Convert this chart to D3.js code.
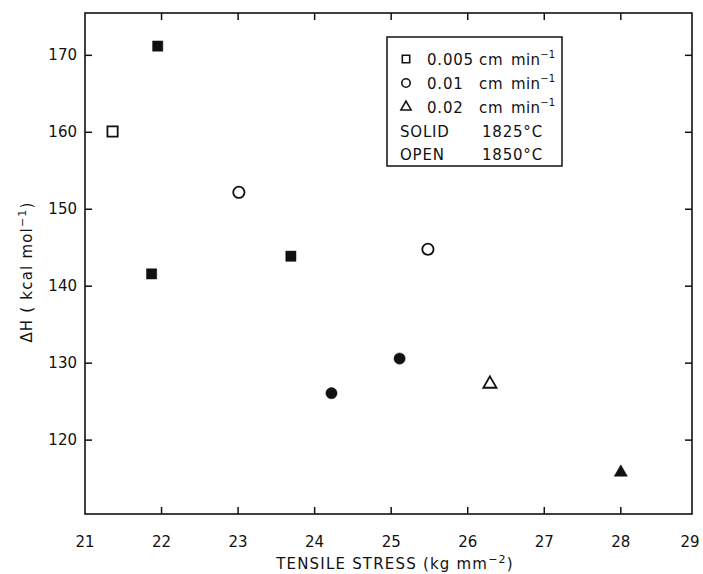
<!DOCTYPE html>
<html>
<head>
<meta charset="utf-8">
<script src="https://cdn.jsdelivr.net/npm/d3@7"></script>
<style>
  body { margin: 0; background: #fff; }
  text { font-family: "DejaVu Sans", sans-serif; fill: #111; }
  .tick-label { font-size: 15px; }
  .axis-title { font-size: 15px; letter-spacing: 1.2px; }
  .legend-text { font-size: 15px; letter-spacing: 0.8px; }
</style>
</head>
<body>
<div id="chart"></div>
<script>
// data
var stress = [21.36, 21.95, 21.87, 23.01, 23.69, 25.48, 24.22, 25.11, 26.29, 28.0];
var deltaH = [160.1, 171.2, 141.6, 152.2, 143.9, 144.8, 126.1, 130.6, 127.3, 115.8];
var rate   = ["0.005", "0.005", "0.005", "0.01", "0.005", "0.01", "0.01", "0.01", "0.02", "0.02"];
var temp   = ["1850", "1825", "1825", "1850", "1825", "1850", "1825", "1825", "1850", "1825"];

var xTicks = [21, 22, 23, 24, 25, 26, 27, 28, 29];
var yTicks = [120, 130, 140, 150, 160, 170];

var rates = ["0.005", "0.01", "0.02"];
var legendRates = ["0.005", "0.01", "0.02"];
var legendTemps = [["SOLID", "1825°C"], ["OPEN", "1850°C"]];

function drawChart() {

    var width = 703, height = 574;
    var m = {left: 85, right: 692, top: 13, bottom: 514};

    var svg = d3.select("#chart").append("svg")
        .attr("width", width)
        .attr("height", height);

    var x = d3.scaleLinear().domain([21, 28.93]).range([m.left, m.right]);
    var y = d3.scaleLinear().domain([110.4, 175.5]).range([m.bottom, m.top]);

    var shapes = d3.scaleOrdinal()
        .domain(rates)
        .range([d3.symbolSquare, d3.symbolCircle, d3.symbolTriangle]);
    var sizes = d3.scaleOrdinal()
        .domain(rates)
        .range([105, 100, 75]);

    // frame
    svg.append("rect")
        .attr("x", m.left)
        .attr("y", m.top)
        .attr("width", m.right - m.left)
        .attr("height", m.bottom - m.top)
        .attr("fill", "none")
        .attr("stroke", "#111")
        .attr("stroke-width", 1.6);

    var tickLen = 7;

    // bottom + top ticks (inward)
    svg.append("g").selectAll("line")
        .data(xTicks.slice(1, -1))
        .enter().append("line")
        .attr("x1", d => x(d)).attr("x2", d => x(d))
        .attr("y1", m.bottom).attr("y2", m.bottom - tickLen)
        .attr("stroke", "#111").attr("stroke-width", 1.5);

    svg.append("g").selectAll("line")
        .data(xTicks.slice(1, -1))
        .enter().append("line")
        .attr("x1", d => x(d)).attr("x2", d => x(d))
        .attr("y1", m.top).attr("y2", m.top + tickLen)
        .attr("stroke", "#111").attr("stroke-width", 1.5);

    // left + right ticks
    svg.append("g").selectAll("line")
        .data(yTicks)
        .enter().append("line")
        .attr("x1", m.left).attr("x2", m.left + tickLen)
        .attr("y1", d => y(d)).attr("y2", d => y(d))
        .attr("stroke", "#111").attr("stroke-width", 1.5);

    svg.append("g").selectAll("line")
        .data(yTicks)
        .enter().append("line")
        .attr("x1", m.right).attr("x2", m.right - tickLen)
        .attr("y1", d => y(d)).attr("y2", d => y(d))
        .attr("stroke", "#111").attr("stroke-width", 1.5);

    // tick labels
    svg.append("g").selectAll("text")
        .data(xTicks)
        .enter().append("text")
        .attr("class", "tick-label")
        .attr("x", d => Math.min(x(d), m.right - 2))
        .attr("y", m.bottom + 33)
        .attr("text-anchor", "middle")
        .text(d => d);

    svg.append("g").selectAll("text")
        .data(yTicks)
        .enter().append("text")
        .attr("class", "tick-label")
        .attr("x", m.left - 8)
        .attr("y", d => y(d) + 5)
        .attr("text-anchor", "end")
        .text(d => d);

    // axis titles
    var xt = svg.append("text")
        .attr("class", "axis-title")
        .attr("x", 395)
        .attr("y", 569)
        .attr("text-anchor", "middle");
    xt.append("tspan").text("TENSILE STRESS (kg mm");
    xt.append("tspan").attr("dy", -6).attr("font-size", 11).text("−2");
    xt.append("tspan").attr("dy", 6).text(")");

    var yt = svg.append("text")
        .attr("class", "axis-title")
        .attr("transform", "translate(32,272) rotate(-90)")
        .attr("text-anchor", "middle");
    yt.append("tspan").text("ΔH ( kcal mol");
    yt.append("tspan").attr("dy", -6).attr("font-size", 11).text("−1");
    yt.append("tspan").attr("dy", 6).text(")");

    // points
    var pts = stress.map((s, i) => ({ s: s, h: deltaH[i], rate: rate[i], temp: temp[i] }));

    svg.append("g").selectAll("path")
        .data(pts)
        .enter().append("path")
        .attr("transform", d => "translate(" + x(d.s) + "," + y(d.h) + ")")
        .attr("d", d => d3.symbol().type(shapes(d.rate)).size(sizes(d.rate))())
        .attr("fill", d => d.temp == "1825" ? "#111" : "#fff")
        .attr("stroke", "#111")
        .attr("stroke-width", d => d.temp == "1825" ? 0.5 : 1.8);

    // legend
    var lg = svg.append("g");
    lg.append("rect")
        .attr("x", 387).attr("y", 37)
        .attr("width", 175).attr("height", 129)
        .attr("fill", "#fff")
        .attr("stroke", "#111")
        .attr("stroke-width", 1.5);

    var rowY = [60, 84, 108, 132, 155];

    rates.forEach(function(r, i) {
        lg.append("path")
            .attr("transform", "translate(406," + (rowY[i] - 1) + ")")
            .attr("d", d3.symbol().type(shapes(r)).size(r == "0.02" ? 45 : 55)())
            .attr("fill", "none")
            .attr("stroke", "#111")
            .attr("stroke-width", 1.6);
        lg.append("text")
            .attr("class", "legend-text")
            .attr("x", 427)
            .attr("y", rowY[i] + 5)
            .text(legendRates[i]);
        lg.append("text")
            .attr("class", "legend-text")
            .attr("x", 479)
            .attr("y", rowY[i] + 5)
            .text("cm");
        var t = lg.append("text")
            .attr("class", "legend-text")
            .attr("x", 511)
            .attr("y", rowY[i] + 5)
            .style("letter-spacing", "0.3px")
            .text("min");
        t.append("tspan").attr("dy", -7).attr("font-size", 10).text("−1");
    });

    legendTemps.forEach(function(d, i) {
        lg.append("text")
            .attr("class", "legend-text")
            .attr("x", 400)
            .attr("y", rowY[i + 3] + 5)
            .text(d[0]);
        lg.append("text")
            .attr("class", "legend-text")
            .attr("x", 482)
            .attr("y", rowY[i + 3] + 5)
            .text(d[1]);
    });
}

drawChart();
</script>
</body>
</html>
